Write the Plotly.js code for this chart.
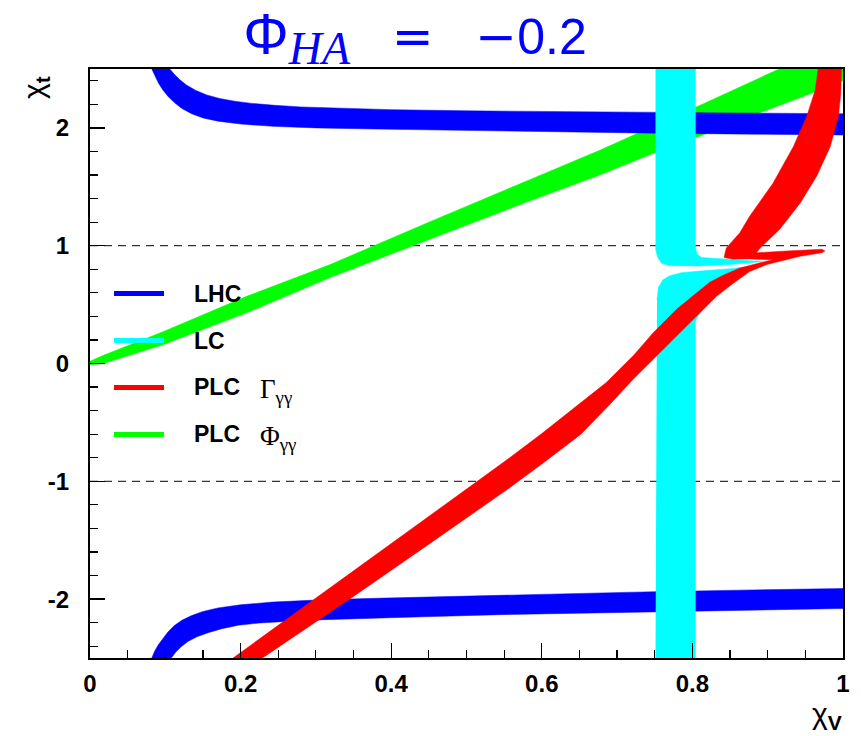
<!DOCTYPE html>
<html><head><meta charset="utf-8">
<script src="https://cdn.plot.ly/plotly-3.0.1.min.js"></script>
<style>html,body{margin:0;padding:0;background:#fff}#chart{width:861px;height:736px}</style>
</head><body><div id="chart"></div>
<script>
// ---- LHC band, upper branch (lower edge / upper edge) ----
const lhcUpLoX = [0.082,0.086,0.091,0.097,0.104,0.112,0.122,0.135,0.15,0.17,0.2,0.243,0.3,0.38,0.47,0.6,0.75,0.88,1.0];
const lhcUpLoY = [2.5,2.44,2.38,2.32,2.265,2.215,2.165,2.12,2.085,2.057,2.033,2.013,2.0,1.99,1.98,1.966,1.955,1.947,1.94];
const lhcUpHiX = [0.106,0.112,0.119,0.128,0.14,0.155,0.172,0.192,0.215,0.245,0.28,0.33,0.4,0.5,0.65,0.8,1.0];
const lhcUpHiY = [2.5,2.455,2.41,2.365,2.32,2.28,2.25,2.227,2.208,2.192,2.178,2.165,2.155,2.145,2.135,2.128,2.12];
// ---- LHC band, lower branch (upper edge / lower edge) ----
const lhcDnHiX = [0.082,0.086,0.091,0.097,0.104,0.112,0.122,0.135,0.15,0.17,0.2,0.243,0.3,0.38,0.47,0.6,0.75,0.88,1.0];
const lhcDnHiY = [-2.5,-2.44,-2.385,-2.33,-2.275,-2.225,-2.18,-2.14,-2.105,-2.075,-2.048,-2.025,-2.008,-1.993,-1.978,-1.96,-1.937,-1.922,-1.91];
const lhcDnLoX = [0.108,0.114,0.121,0.13,0.142,0.157,0.175,0.197,0.225,0.26,0.31,0.37,0.443,0.544,0.65,0.8,1.0];
const lhcDnLoY = [-2.5,-2.45,-2.405,-2.36,-2.32,-2.285,-2.252,-2.222,-2.203,-2.19,-2.175,-2.162,-2.15,-2.132,-2.118,-2.1,-2.08];
// ---- LC band (two pieces, outlines) ----
const lcUpX = [0.751,0.804,0.804,0.806,0.812,0.854,0.893,0.854,0.81,0.77,0.759,0.754,0.751];
const lcUpY = [2.5,2.5,0.99,0.93,0.90,0.883,0.865,0.843,0.828,0.83,0.85,0.90,0.97];
const lcDnX = [0.751,0.804,0.804,0.82,0.85,0.875,0.89,0.85,0.81,0.785,0.77,0.761,0.755,0.753];
const lcDnY = [-2.5,-2.5,0.36,0.55,0.72,0.80,0.835,0.805,0.785,0.77,0.745,0.71,0.65,0.54];
// ---- PLC Phi_gammagamma band (upper edge / lower edge) ----
const phiHiX = [0.0,0.018,0.097,0.208,0.319,0.45,0.58,0.677,0.75,0.806,0.915,1.0];
const phiHiY = [0.02,0.07,0.27,0.57,0.84,1.2,1.55,1.81,2.02,2.18,2.5,2.5];
const phiLoX = [0.0,0.018,0.097,0.208,0.319,0.45,0.58,0.677,0.75,0.806,0.89,0.961,1.0];
const phiLoY = [-0.01,0.0,0.16,0.43,0.73,1.05,1.37,1.6,1.79,1.92,2.13,2.3,2.4];
// ---- PLC Gamma_gammagamma band (outline) ----
const gamX = [0.190,0.30,0.40,0.50,0.55,0.60,0.645,0.686,0.722,0.748,0.779,0.806,0.823,0.841,0.863,0.890,0.907,
              0.876,0.854,0.842,0.845,0.863,0.876,0.907,0.934,0.952,0.963,0.967,
              0.998,0.997,0.994,0.983,0.965,0.943,0.916,0.890,0.885,
              0.925,0.972,0.976,0.972,
              0.943,0.925,0.899,0.876,0.854,0.832,0.810,0.784,0.753,0.721,0.69,0.652,0.604,0.554,0.451,0.347,0.229];
const gamY = [-2.5,-1.99,-1.53,-1.07,-0.835,-0.595,-0.37,-0.16,0.07,0.26,0.46,0.60,0.69,0.75,0.81,0.855,0.88,
              0.887,0.885,0.90,0.98,1.11,1.25,1.53,1.84,2.10,2.32,2.5,
              2.5,2.29,2.10,1.84,1.59,1.36,1.14,0.98,0.94,
              0.955,0.97,0.955,0.94,
              0.91,0.88,0.84,0.78,0.68,0.57,0.43,0.26,0.06,-0.136,-0.35,-0.60,-0.835,-1.07,-1.53,-1.99,-2.5];
// ---- reference lines, ticks, legend ----
const refLines = [1, -1];
const xTickVals = [0,0.2,0.4,0.6,0.8,1];
const xTickText = ['0','0.2','0.4','0.6','0.8','1'];
const yTickVals = [-2,-1,0,1,2];
const yTickText = ['-2','-1','0','1','2'];
const legendNames = ['LHC','LC','PLC','PLC'];
const legendSyms = ['','','Γ<sub>γγ</sub>','Φ<sub>γγ</sub>'];
const legendColors = ['#0000ff','#00ffff','#ff0000','#00ff00'];

function band(xa, ya, xb, yb) {
  return {x: xa.concat(xb.slice().reverse()), y: ya.concat(yb.slice().reverse())};
}
function poly(p, color, name) {
  return {type:'scatter', mode:'lines', x:p.x, y:p.y, fill:'toself', fillcolor:color,
          line:{width:0.5, color:color}, hoverinfo:'skip', showlegend:false, name:name};
}
const pPhi = band(phiHiX, phiHiY, phiLoX, phiLoY);
const pLhcUp = band(lhcUpLoX, lhcUpLoY, lhcUpHiX, lhcUpHiY);
const pLhcDn = band(lhcDnHiX, lhcDnHiY, lhcDnLoX, lhcDnLoY);
const traces = [
  poly(pPhi, '#00ff00', 'PLC Phi'),
  poly(pLhcUp, '#0000ff', 'LHC'),
  poly(pLhcDn, '#0000ff', 'LHC'),
  poly({x:lcUpX, y:lcUpY}, '#00ffff', 'LC'),
  poly({x:lcDnX, y:lcDnY}, '#00ffff', 'LC'),
  poly({x:gamX, y:gamY}, '#ff0000', 'PLC Gamma')
];

const px2paperX = p => (p - 90) / 753;
const px2paperY = p => (658 - p) / 590;
const legY0 = 293, legDy = 47;
const shapes = refLines.map(v => ({type:'line', xref:'x', yref:'y', x0:0, x1:1, y0:v, y1:v,
  layer:'below', line:{color:'black', width:1, dash:'8px,6px'}}));
const annotations = [];
legendNames.forEach((n, i) => {
  const yp = px2paperY(legY0 + i * legDy);
  shapes.push({type:'line', xref:'paper', yref:'paper', x0:px2paperX(114), x1:px2paperX(164),
    y0:yp, y1:yp, line:{color:legendColors[i], width:5}});
  annotations.push({xref:'paper', yref:'paper', x:px2paperX(192), y:yp, xanchor:'left', yanchor:'middle',
    text:'<b>'+n+'</b>', showarrow:false, font:{family:'Liberation Sans, Arial', size:23, color:'black'}});
  if (legendSyms[i]) annotations.push({xref:'paper', yref:'paper', x:px2paperX(258), y:yp-0.006,
    xanchor:'left', yanchor:'middle', text:legendSyms[i], showarrow:false,
    font:{family:'Liberation Serif, Times New Roman', size:27, color:'black'}});
});
annotations.push({xref:'paper', yref:'paper', x:px2paperX(36), y:px2paperY(86), xanchor:'center', yanchor:'middle',
  textangle:-90, showarrow:false, text:'χ<sub><b>t</b></sub>',
  font:{family:'Liberation Sans, Arial', size:30, color:'black'}});
annotations.push({xref:'paper', yref:'paper', x:px2paperX(827), y:px2paperY(716), xanchor:'center', yanchor:'middle',
  showarrow:false, text:'χ<sub><b>V</b></sub>',
  font:{family:'Liberation Sans, Arial', size:30, color:'black'}});

const NB = '\u00a0';
const titleText = '<span style="font-size:57px">Φ</span>' +
  '<sub><span style="font-family:Liberation Serif;font-style:italic;font-size:46px">HA</span></sub>' +
  NB + NB + NB + '<span style="font-family:DejaVu Sans">=</span>' + NB + NB + NB +
  '<span style="font-family:DejaVu Sans">−</span>0.2';

const tickFont = {family:'Liberation Sans, Arial', size:24, color:'black', weight:'bold'};
const layout = {
  width:861, height:736,
  margin:{l:90, r:18, t:69, b:78},
  paper_bgcolor:'white', plot_bgcolor:'white',
  showlegend:false,
  title:{text:titleText,
         font:{family:'Liberation Sans, Arial', size:50, color:'#0000ff'},
         xref:'paper', x:px2paperX(415), xanchor:'center', yref:'container', y:1-36/736, yanchor:'middle'},
  xaxis:{range:[0,1], showline:true, linewidth:2, linecolor:'black', mirror:true,
         ticks:'inside', ticklen:15, tickwidth:1.2, tickcolor:'black',
         tickmode:'array', tickvals:xTickVals, ticktext:xTickText, tickfont:tickFont,
         ticklabelstandoff:3,
         minor:{tickmode:'linear', tick0:0, dtick:0.05, ticks:'inside', ticklen:8, tickwidth:1.2, tickcolor:'black', showgrid:false},
         showgrid:false, zeroline:false, fixedrange:true},
  yaxis:{range:[-2.5,2.5], showline:true, linewidth:2, linecolor:'black', mirror:true,
         ticks:'inside', ticklen:15, tickwidth:1.2, tickcolor:'black',
         tickmode:'array', tickvals:yTickVals, ticktext:yTickText, tickfont:tickFont,
         ticklabelstandoff:14,
         minor:{tickmode:'linear', tick0:0, dtick:0.2, ticks:'inside', ticklen:8, tickwidth:1.2, tickcolor:'black', showgrid:false},
         showgrid:false, zeroline:false, fixedrange:true},
  shapes:shapes,
  annotations:annotations
};
Plotly.newPlot('chart', traces, layout, {displayModeBar:false, staticPlot:true});
</script>
</body></html>
